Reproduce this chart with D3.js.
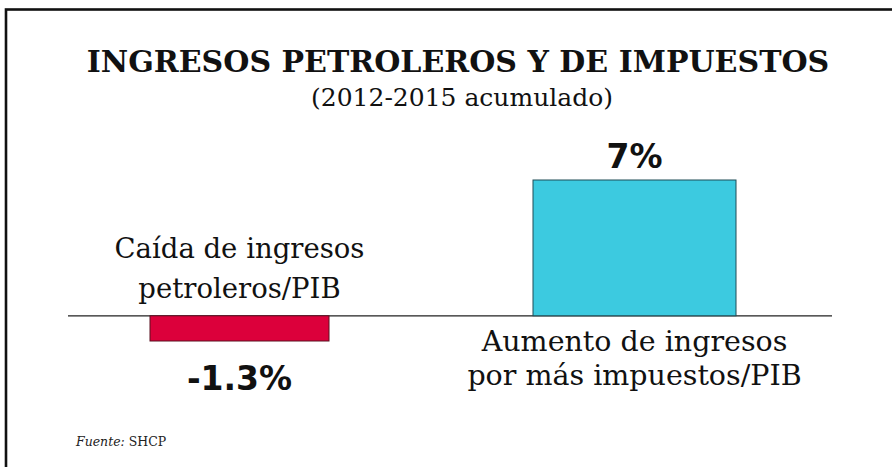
<!DOCTYPE html>
<html>
<head>
<meta charset="utf-8">
<script src="https://cdn.jsdelivr.net/npm/d3@7"></script>
<style>
  html, body { margin: 0; padding: 0; background: #fff; }
  svg { display: block; }
</style>
</head>
<body>
<svg id="chart"></svg>
<script>
// data
const categories = ["Caída de ingresos petroleros/PIB", "Aumento de ingresos por más impuestos/PIB"];
const labelLines = [["Caída de ingresos", "petroleros/PIB"], ["Aumento de ingresos", "por más impuestos/PIB"]];
const values = [-1.3, 7];
const valueLabels = ["-1.3%", "7%"];

const titleText = "INGRESOS PETROLEROS Y DE IMPUESTOS";
const subtitleText = "(2012-2015 acumulado)";

// styles
const barColors = ["#dc003b", "#3ccae0"];
const barStroke = ["#5a1020", "#1f4d57"];
const barWidths = [179, 203];

const width = 892, height = 467;

const svg = d3.select("#chart")
  .attr("width", width)
  .attr("height", height)
  .attr("viewBox", [0, 0, width, height]);

svg.append("rect")
  .attr("width", width).attr("height", height)
  .attr("fill", "#fff");

// frame (left and top edges visible)
svg.append("rect")
  .attr("x", 6).attr("y", 9.5)
  .attr("width", 1000).attr("height", 1000)
  .attr("fill", "none")
  .attr("stroke", "#111")
  .attr("stroke-width", 2.6);

const serif = "'DejaVu Serif', serif";
const sans = "'DejaVu Sans', sans-serif";

svg.append("text")
  .attr("x", 458).attr("y", 72)
  .attr("text-anchor", "middle")
  .style("font-family", serif)
  .style("font-weight", "bold")
  .style("font-size", "30px")
  .attr("fill", "#111")
  .text(titleText);

svg.append("text")
  .attr("x", 462).attr("y", 106)
  .attr("text-anchor", "middle")
  .style("font-family", serif)
  .style("font-size", "25px")
  .attr("fill", "#111")
  .text(subtitleText);

const x = d3.scalePoint(categories, [239.5, 634.5]);
const y = d3.scaleLinear([d3.min(values), d3.max(values)], [341, 180]);

// baseline
svg.append("line")
  .attr("x1", 68).attr("x2", 832)
  .attr("y1", y(0)).attr("y2", y(0))
  .attr("stroke", "#222")
  .attr("stroke-width", 1.2);

const I = d3.range(categories.length);

svg.append("g")
  .selectAll("rect")
  .data(I)
  .join("rect")
    .attr("x", i => x(categories[i]) - barWidths[i] / 2)
    .attr("width", i => barWidths[i])
    .attr("y", i => y(Math.max(0, values[i])))
    .attr("height", i => Math.abs(y(values[i]) - y(0)))
    .attr("fill", i => barColors[i])
    .attr("stroke", i => barStroke[i])
    .attr("stroke-width", 1);

// value labels
svg.append("g")
  .selectAll("text")
  .data(I)
  .join("text")
    .attr("x", i => x(categories[i]))
    .attr("y", i => values[i] < 0 ? y(values[i]) + 49 : y(values[i]) - 12)
    .attr("text-anchor", "middle")
    .style("font-family", sans)
    .style("font-weight", "bold")
    .style("font-size", "33px")
    .attr("fill", "#111")
    .text(i => valueLabels[i]);

// category labels: above baseline for negative bars, below for positive
const catG = svg.append("g")
  .style("font-family", serif)
  .attr("fill", "#111");

catG.selectAll("text")
  .data(I)
  .join("text")
    .attr("text-anchor", "middle")
    .style("font-size", i => values[i] < 0 ? "27.5px" : "28.5px")
    .attr("x", i => x(categories[i]))
    .attr("y", i => values[i] < 0 ? y(0) - 58 : y(0) + 35)
    .call(t => t.selectAll("tspan")
      .data(i => labelLines[i].map(s => ({ s, i })))
      .join("tspan")
        .attr("x", d => x(categories[d.i]))
        .attr("dy", (d, k) => k === 0 ? 0 : (values[d.i] < 0 ? 40 : 34))
        .text(d => d.s));

// source
const src = svg.append("text")
  .attr("x", 76).attr("y", 446)
  .style("font-family", serif)
  .style("font-size", "12.5px")
  .attr("fill", "#222");
src.append("tspan").style("font-style", "italic").text("Fuente:");
src.append("tspan").text(" SHCP");
</script>
</body>
</html>
